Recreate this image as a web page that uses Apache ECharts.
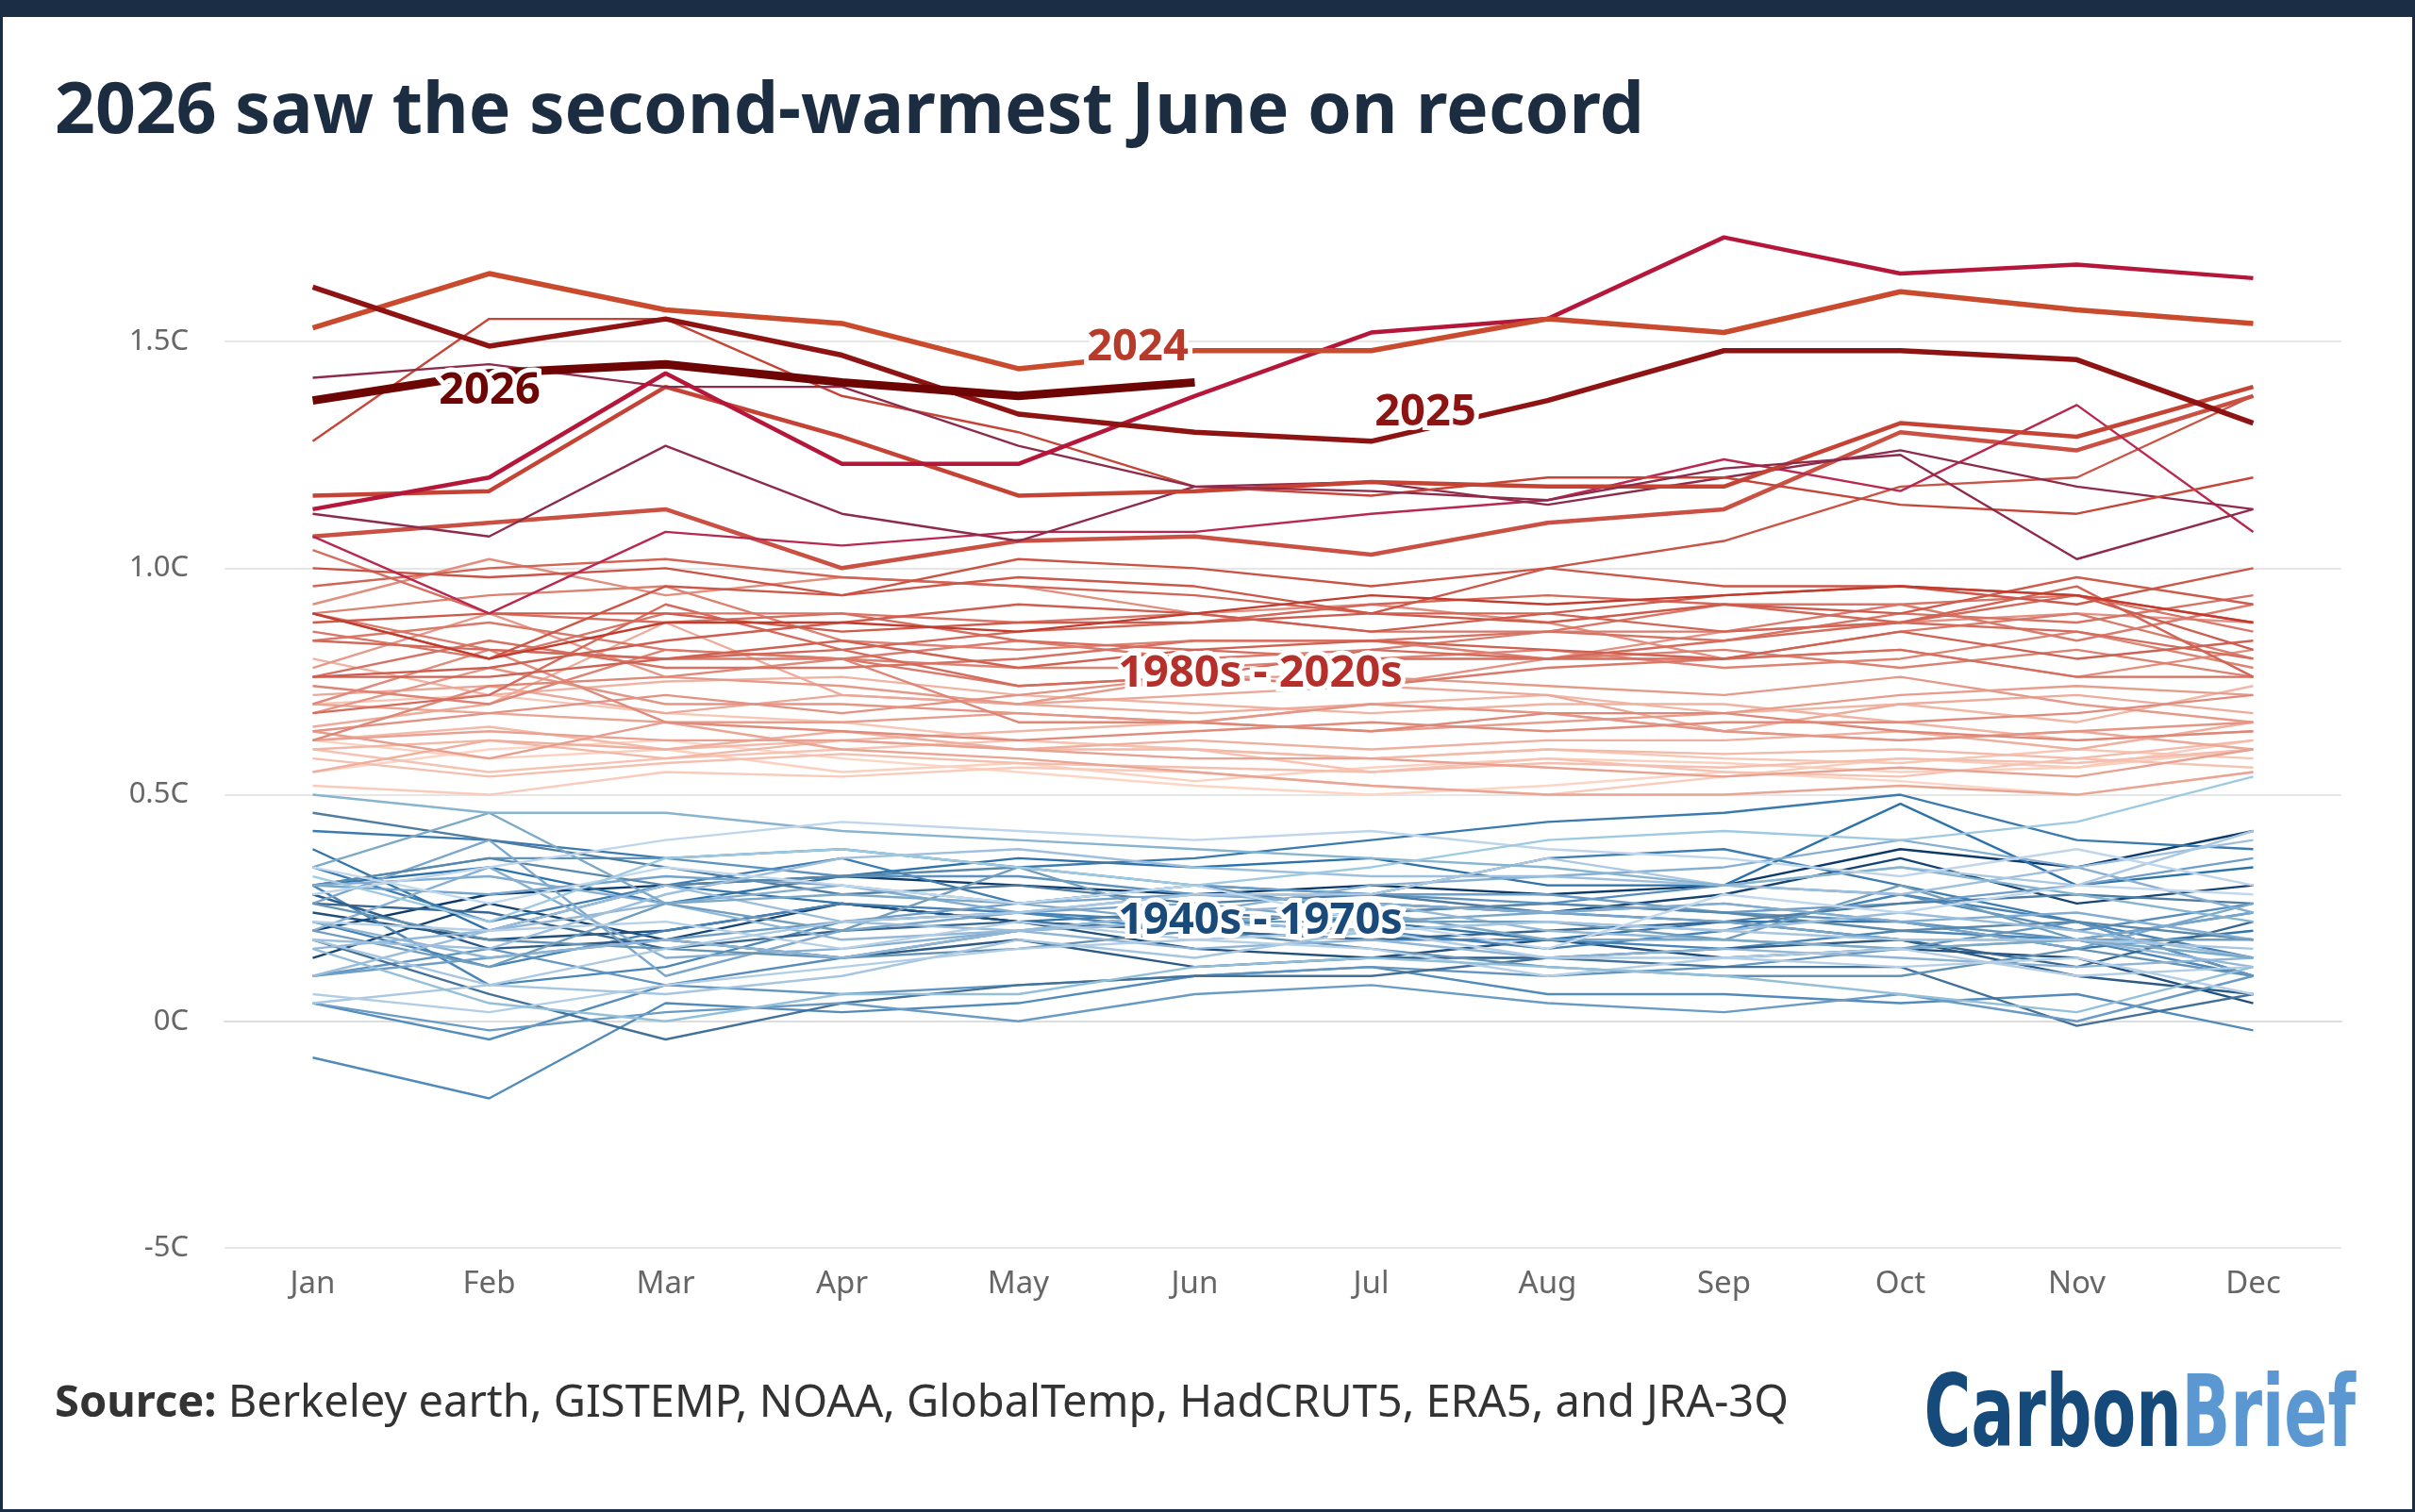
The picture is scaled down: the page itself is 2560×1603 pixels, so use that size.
<!DOCTYPE html>
<html><head><meta charset="utf-8">
<script src="https://cdn.jsdelivr.net/npm/echarts@6/dist/echarts.min.js"></script>
<style>
html,body{margin:0;padding:0;background:#fff;}
#frame{position:absolute;left:0;top:0;width:2560px;height:1603px;box-sizing:border-box;border:3px solid #1b2d45;border-top:18px solid #1b2d45;}
#c{position:absolute;left:0;top:0;width:2560px;height:1603px;}
</style></head><body>
<div id="c"></div><div id="frame"></div>
<script>
const months=['Jan','Feb','Mar','Apr','May','Jun','Jul','Aug','Sep','Oct','Nov','Dec'];
const yTicks={'-0.5':'-5C','0':'0C','0.5':'0.5C','1':'1.0C','1.5':'1.5C'};
const blueYears={
1940:[0.20,0.28,0.30,0.32,0.30,0.28,0.30,0.28,0.30,0.38,0.34,0.42],
1941:[0.30,0.34,0.26,0.32,0.36,0.34,0.36,0.30,0.30,0.48,0.30,0.34],
1942:[0.38,0.20,0.30,0.26,0.22,0.24,0.22,0.18,0.22,0.22,0.16,0.20],
1943:[0.14,0.26,0.18,0.26,0.22,0.20,0.26,0.24,0.28,0.36,0.26,0.30],
1944:[0.42,0.40,0.36,0.38,0.34,0.36,0.40,0.44,0.46,0.50,0.40,0.38],
1945:[0.34,0.22,0.30,0.36,0.26,0.30,0.28,0.36,0.38,0.30,0.22,0.10],
1946:[0.24,0.18,0.20,0.26,0.22,0.16,0.14,0.18,0.14,0.16,0.14,0.04],
1947:[0.22,0.12,0.20,0.26,0.24,0.22,0.20,0.16,0.20,0.28,0.22,0.14],
1948:[0.30,0.08,0.12,0.22,0.24,0.20,0.18,0.18,0.16,0.20,0.18,0.10],
1949:[0.28,0.16,0.18,0.14,0.18,0.12,0.14,0.14,0.16,0.18,0.10,0.06],
1950:[-0.08,-0.17,0.04,0.02,0.04,0.10,0.12,0.06,0.06,0.04,0.06,-0.02],
1951:[0.04,-0.04,0.08,0.14,0.20,0.22,0.24,0.26,0.30,0.28,0.20,0.26],
1952:[0.26,0.24,0.16,0.20,0.22,0.20,0.18,0.20,0.22,0.18,0.12,0.22],
1953:[0.30,0.36,0.36,0.32,0.32,0.28,0.28,0.26,0.24,0.22,0.18,0.24],
1954:[0.10,0.16,0.08,0.06,0.08,0.10,0.12,0.10,0.12,0.16,0.22,0.10],
1955:[0.18,0.06,-0.04,0.04,0.08,0.10,0.10,0.14,0.12,0.12,-0.01,0.06],
1956:[0.04,-0.02,0.02,0.04,0.00,0.06,0.08,0.04,0.02,0.06,0.00,0.10],
1957:[0.10,0.14,0.18,0.22,0.26,0.30,0.28,0.28,0.24,0.26,0.30,0.36],
1958:[0.46,0.40,0.34,0.28,0.30,0.26,0.28,0.24,0.22,0.26,0.28,0.26],
1959:[0.30,0.28,0.32,0.30,0.26,0.28,0.26,0.24,0.22,0.18,0.18,0.24],
1960:[0.26,0.40,0.10,0.20,0.24,0.26,0.22,0.24,0.26,0.22,0.16,0.26],
1961:[0.30,0.36,0.30,0.32,0.34,0.30,0.24,0.26,0.24,0.20,0.22,0.18],
1962:[0.30,0.32,0.26,0.30,0.24,0.28,0.26,0.24,0.26,0.22,0.24,0.18],
1963:[0.20,0.34,0.14,0.16,0.20,0.24,0.30,0.32,0.34,0.40,0.34,0.24],
1964:[0.26,0.18,0.16,0.14,0.16,0.20,0.16,0.12,0.10,0.10,0.16,0.10],
1965:[0.22,0.14,0.18,0.14,0.20,0.16,0.18,0.14,0.16,0.14,0.12,0.14],
1966:[0.16,0.20,0.26,0.18,0.20,0.24,0.26,0.20,0.18,0.16,0.18,0.12],
1967:[0.20,0.12,0.26,0.20,0.34,0.22,0.22,0.22,0.18,0.30,0.18,0.18],
1968:[0.10,0.20,0.30,0.22,0.20,0.22,0.20,0.22,0.20,0.24,0.20,0.14],
1969:[0.18,0.16,0.28,0.36,0.38,0.34,0.32,0.32,0.30,0.28,0.34,0.40],
1970:[0.34,0.46,0.26,0.28,0.26,0.22,0.24,0.18,0.18,0.16,0.18,0.14],
1971:[0.18,0.08,0.06,0.10,0.18,0.14,0.20,0.22,0.20,0.18,0.18,0.16],
1972:[0.04,0.08,0.16,0.22,0.24,0.28,0.28,0.36,0.30,0.34,0.30,0.42],
1973:[0.50,0.46,0.46,0.42,0.40,0.38,0.36,0.34,0.30,0.34,0.28,0.22],
1974:[0.06,0.02,0.08,0.12,0.16,0.18,0.20,0.14,0.14,0.16,0.10,0.12],
1975:[0.22,0.20,0.22,0.16,0.22,0.18,0.16,0.10,0.14,0.12,0.14,0.06],
1976:[0.16,0.04,0.00,0.06,0.06,0.12,0.14,0.12,0.10,0.06,0.02,0.12],
1977:[0.28,0.34,0.40,0.44,0.42,0.40,0.42,0.38,0.36,0.32,0.38,0.30],
1978:[0.34,0.26,0.34,0.30,0.26,0.30,0.22,0.16,0.28,0.24,0.30,0.28],
1979:[0.32,0.22,0.36,0.38,0.34,0.30,0.34,0.40,0.42,0.40,0.44,0.54]
};
const redYears={
1980:[0.55,0.60,0.62,0.58,0.55,0.52,0.50,0.52,0.55,0.53,0.50,0.55],
1981:[0.62,0.58,0.60,0.55,0.57,0.53,0.56,0.58,0.57,0.55,0.56,0.60],
1982:[0.52,0.50,0.55,0.54,0.56,0.55,0.52,0.50,0.54,0.58,0.56,0.62],
1983:[0.70,0.72,0.68,0.66,0.62,0.60,0.58,0.60,0.58,0.57,0.60,0.58],
1984:[0.60,0.55,0.58,0.60,0.62,0.60,0.55,0.58,0.55,0.54,0.58,0.56],
1985:[0.58,0.54,0.57,0.59,0.57,0.56,0.55,0.57,0.56,0.58,0.57,0.60],
1986:[0.62,0.65,0.60,0.62,0.60,0.60,0.58,0.60,0.59,0.60,0.58,0.62],
1987:[0.60,0.62,0.58,0.62,0.64,0.66,0.70,0.72,0.68,0.70,0.66,0.74],
1988:[0.80,0.72,0.75,0.76,0.72,0.70,0.68,0.70,0.70,0.66,0.62,0.64],
1989:[0.55,0.62,0.60,0.64,0.60,0.62,0.60,0.62,0.62,0.64,0.60,0.66],
1990:[0.65,0.70,0.88,0.72,0.70,0.68,0.70,0.68,0.64,0.70,0.72,0.68],
1991:[0.72,0.74,0.68,0.72,0.70,0.72,0.74,0.72,0.64,0.62,0.64,0.60],
1992:[0.70,0.68,0.66,0.60,0.58,0.55,0.52,0.50,0.50,0.52,0.50,0.55],
1993:[0.62,0.64,0.62,0.62,0.60,0.58,0.58,0.56,0.54,0.56,0.54,0.60],
1994:[0.64,0.58,0.66,0.66,0.68,0.66,0.64,0.66,0.68,0.72,0.74,0.72],
1995:[0.78,0.90,0.76,0.74,0.70,0.76,0.76,0.74,0.72,0.76,0.70,0.66],
1996:[0.68,0.78,0.70,0.70,0.68,0.66,0.70,0.68,0.64,0.62,0.64,0.66],
1997:[0.64,0.68,0.72,0.68,0.72,0.76,0.74,0.80,0.86,0.88,0.90,0.88],
1998:[0.92,1.02,0.94,0.98,0.96,0.90,0.92,0.88,0.80,0.82,0.76,0.82],
1999:[0.70,0.82,0.66,0.64,0.62,0.64,0.66,0.64,0.66,0.66,0.68,0.72],
2000:[0.62,0.74,0.76,0.80,0.66,0.66,0.64,0.68,0.68,0.64,0.62,0.64],
2001:[0.74,0.70,0.82,0.80,0.78,0.78,0.80,0.82,0.78,0.80,0.86,0.78],
2002:[0.90,0.94,0.96,0.84,0.82,0.84,0.84,0.80,0.82,0.78,0.82,0.76],
2003:[0.90,0.82,0.80,0.80,0.84,0.80,0.82,0.86,0.86,0.92,0.84,0.92],
2004:[0.84,0.88,0.82,0.80,0.74,0.76,0.74,0.78,0.80,0.86,0.90,0.80],
2005:[0.86,0.80,0.90,0.90,0.88,0.90,0.86,0.86,0.92,0.92,0.94,0.86],
2006:[0.76,0.84,0.78,0.78,0.80,0.84,0.84,0.86,0.84,0.90,0.88,0.94],
2007:[1.04,0.90,0.88,0.90,0.84,0.82,0.80,0.80,0.80,0.82,0.76,0.76],
2008:[0.68,0.72,0.92,0.82,0.74,0.76,0.82,0.80,0.84,0.88,0.86,0.80],
2009:[0.84,0.82,0.80,0.82,0.86,0.88,0.92,0.94,0.92,0.88,0.94,0.88],
2010:[0.96,1.00,1.02,0.98,0.96,0.94,0.90,0.90,0.86,0.88,0.96,0.76],
2011:[0.76,0.76,0.80,0.84,0.78,0.82,0.84,0.82,0.80,0.86,0.80,0.84],
2012:[0.76,0.78,0.84,0.88,0.92,0.90,0.86,0.90,0.94,0.96,0.94,0.82],
2013:[0.88,0.90,0.90,0.86,0.88,0.88,0.90,0.88,0.92,0.90,0.98,0.92],
2014:[0.90,0.80,0.96,0.94,0.98,0.96,0.90,1.00,0.96,0.96,0.92,1.00],
2015:[1.00,0.98,1.00,0.94,1.02,1.00,0.96,1.00,1.06,1.18,1.20,1.38],
2016:[1.07,1.10,1.13,1.00,1.06,1.07,1.03,1.10,1.13,1.30,1.26,1.38],
2017:[1.07,0.90,1.08,1.05,1.08,1.08,1.12,1.15,1.24,1.17,1.36,1.08],
2018:[1.12,1.07,1.27,1.12,1.06,1.18,1.19,1.14,1.20,1.26,1.18,1.13],
2019:[1.28,1.55,1.55,1.38,1.30,1.18,1.16,1.20,1.20,1.14,1.12,1.20],
2020:[1.16,1.17,1.40,1.29,1.16,1.17,1.19,1.18,1.18,1.32,1.29,1.40],
2021:[1.42,1.45,1.40,1.40,1.27,1.18,1.17,1.15,1.22,1.25,1.02,1.13],
2022:[0.90,0.80,0.88,0.88,0.86,0.90,0.94,0.92,0.94,0.96,0.94,0.88],
2023:[1.13,1.20,1.43,1.23,1.23,1.38,1.52,1.55,1.73,1.65,1.67,1.64]
};
const y2024=[1.53,1.65,1.57,1.54,1.44,1.48,1.48,1.55,1.52,1.61,1.57,1.54];
const y2025=[1.62,1.49,1.55,1.47,1.34,1.30,1.28,1.37,1.48,1.48,1.46,1.32];
const y2026=[1.37,1.43,1.45,1.41,1.38,1.41];

function mix(a,b,t){const p=s=>[1,3,5].map(i=>parseInt(s.substr(i,2),16));const A=p(a),B=p(b);
 return '#'+A.map((v,i)=>Math.round(v+(B[i]-v)*t).toString(16).padStart(2,'0')).join('');}
const series=[];
const by=Object.keys(blueYears);
by.forEach((y,i)=>{const t=i/(by.length-1);
 series.push({type:'line',data:blueYears[y],symbol:'none',silent:true,
 lineStyle:{width:2.4,color:i%3===0?mix('#0b3a6b','#9ecae1',t):mix('#2a6fa8','#c6dbef',t)}});});
const ry=Object.keys(redYears);
const thick={2016:4.5,2020:4.5,2023:4.5};
ry.forEach((y,i)=>{const t=i/(ry.length-1);
 let col=mix('#fdd5c4','#c0392b',Math.pow(t,0.9));
 if(+y===2017||+y===2021||+y===2018) col=['#a01540','#b8284f','#8e2a4a'][+y%3];
 if(+y===2023) col='#b5173a';
 series.push({type:'line',data:redYears[y],symbol:'none',silent:true,z:3,
 lineStyle:{width:thick[y]||2.4,color:col}});});
series.push({type:'line',data:y2024,symbol:'none',z:5,lineStyle:{width:5.5,color:'#c94a2c'}});
series.push({type:'line',data:y2025,symbol:'none',z:5,lineStyle:{width:5.5,color:'#8e1414'}});
series.push({type:'line',data:y2026,symbol:'none',z:6,lineStyle:{width:9,color:'#6d0505'}});

function lbl(text,x,y,color){return [
 {type:'text',x,y,z:50,style:{text,fill:'#fff',stroke:'#fff',lineWidth:10,font:'bold 47px "Noto Sans"',align:'center',verticalAlign:'middle'}},
 {type:'text',x,y,z:51,style:{text,fill:color,font:'bold 47px "Noto Sans"',align:'center',verticalAlign:'middle'}}];}

const chart=echarts.init(document.getElementById('c'));
chart.setOption({
 animation:false,
 grid:{left:238,right:78,top:218,bottom:280,containLabel:false},
 xAxis:{type:'category',data:months,boundaryGap:true,
  axisLine:{lineStyle:{color:'#dddddd',width:2}},axisTick:{show:false},
  axisLabel:{color:'#666',fontSize:33,fontFamily:'Noto Sans',margin:22}},
 yAxis:{type:'value',min:-0.5,max:1.8,interval:0.5,
  axisLine:{show:false},axisTick:{show:false},
  splitLine:{showMaxLine:false,lineStyle:{color:'#e6e6e6',width:2}},
  axisLabel:{color:'#666',fontSize:31,fontFamily:'Noto Sans',margin:38,showMaxLabel:false,
   formatter:v=>yTicks[String(Math.round(v*10)/10)]||''}},
 series,
 graphic:[
  {type:'text',left:58,top:82,style:{text:'2026 saw the second-warmest June on record',fill:'#1c2d42',font:'bold 75px "Noto Sans"'}},
  {type:'text',left:58,top:1465,style:{text:'{b|Source:} Berkeley earth, GISTEMP, NOAA, GlobalTemp, HadCRUT5, ERA5, and JRA-3Q',
    fill:'#333',font:'47px "Noto Sans"',rich:{b:{fontWeight:'bold',fontSize:47,fontFamily:'Noto Sans',fill:'#333'}}}},
  {type:'text',x:2497,y:1506,scaleX:0.68,scaleY:1.05,style:{text:'{a|Carbon}{b|Brief}',align:'right',verticalAlign:'middle',
    rich:{a:{fill:'#154a7a',font:'bold 100px "DejaVu Sans"'},b:{fill:'#5b98d2',font:'bold 100px "DejaVu Sans"'}}}},
  ...lbl('2024',1206,369,'#b83a2a'),
  ...lbl('2026',519,415,'#6d0505'),
  ...lbl('2025',1511,438,'#8e1414'),
  ...lbl('1980s - 2020s',1336,715,'#b5302a'),
  ...lbl('1940s - 1970s',1336,977,'#1a4a7a')
 ]
});
</script></body></html>
